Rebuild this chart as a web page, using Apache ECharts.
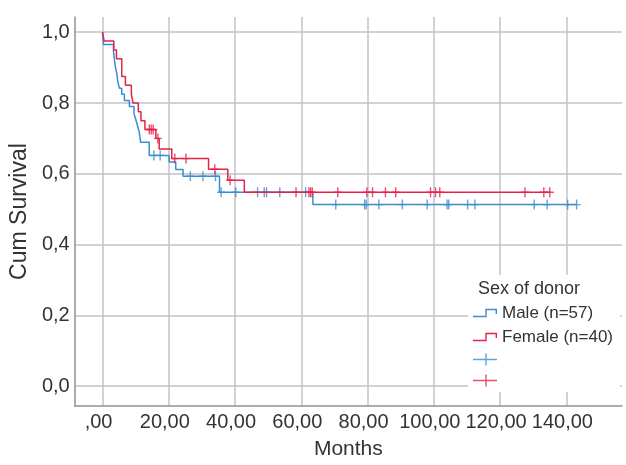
<!DOCTYPE html>
<html><head><meta charset="utf-8">
<script src="https://cdn.jsdelivr.net/npm/echarts@6/dist/echarts.min.js"></script>
<style>html,body{margin:0;padding:0;background:#fff}#c{width:626px;height:465px}</style>
</head><body><div id="c"></div>
<script>
// ---- data ----
const xTicks = [0, 20, 40, 60, 80, 100, 120, 140];
const yTicks = [0, 0.2, 0.4, 0.6, 0.8, 1.0];

const maleTimes = [0, 0.3, 3.3, 3.8, 4.3, 4.6, 5.1, 5.8, 6.6, 8.1, 9.5, 10.0, 10.5, 11.1, 11.5, 14.1, 20.1, 22.1, 24.3, 35.3, 63.5];
const maleSurv  = [1, 0.965, 0.947, 0.906, 0.883, 0.860, 0.842, 0.825, 0.807, 0.790, 0.770, 0.754, 0.738, 0.717, 0.689, 0.652, 0.633, 0.612, 0.593, 0.548, 0.513];
const maleCensor = [15.5, 17.4, 26.5, 30.3, 34.1, 35.8, 40.2, 46.8, 48.8, 49.5, 53.5, 61.3, 70.4, 79.1, 79.6, 83.4, 90.5, 98.0, 104.0, 104.5, 110.2, 112.4, 130.3, 134.2, 140.4, 143.1];

const femaleTimes = [0, 0.5, 3.4, 4.2, 5.8, 6.9, 8.7, 9.2, 10.8, 11.6, 12.8, 16.1, 17.1, 20.9, 32.0, 37.8, 42.8];
const femaleSurv  = [1, 0.975, 0.950, 0.925, 0.875, 0.850, 0.825, 0.800, 0.775, 0.750, 0.725, 0.700, 0.670, 0.643, 0.613, 0.582, 0.548];
const femaleCensor = [14.1, 14.7, 15.3, 16.7, 21.8, 25.2, 33.9, 38.5, 58.4, 62.3, 62.8, 63.3, 71.0, 79.8, 81.5, 85.4, 88.5, 99.0, 100.5, 101.8, 127.5, 133.2, 135.0];

const seriesNames = ['Male (n=57)', 'Female (n=40)', ' ', '  '];
const legendTitle = 'Sex of donor';

// ---- helpers ----
function survAt(times, surv, t) {
  let s = surv[0];
  for (let i = 0; i < times.length; i++) { if (times[i] <= t) s = surv[i]; }
  return s;
}
function stepData(times, surv, censor) {
  const d = times.map((t, i) => [t, surv[i]]);
  const end = censor[censor.length - 1];
  d.push([end, surv[surv.length - 1]]);
  return d;
}
function censorData(times, surv, censor) {
  return censor.map(t => [t, survAt(times, surv, t)]);
}

const BLUE = '#3a8dd0', RED = '#e2234a';
const FONT = "'Liberation Sans', Arial, sans-serif";
const crossSym = 'path://M0,4.3H8V5.7H0Z M3.3,0H4.7V10H3.3Z';
const stepIcon = 'path://M0,0h0.01v0.01h-0.01Z M23.99,13.99h0.01v0.01h-0.01Z M0,9.8H12.3V2.8H24V8H22.6V4.2H13.7V11.2H0Z';
const plusIcon = 'path://M0,0h0.01v0.01h-0.01Z M23.99,13.99h0.01v0.01h-0.01Z M0,6.3H24V7.7H0Z M12.3,1H13.7V13H12.3Z';

const fmtX = v => v === 0 ? ',00' : v.toFixed(2).replace('.', ',');
const fmtY = v => v.toFixed(1).replace('.', ',');

const chart = echarts.init(document.getElementById('c'), null, {renderer: 'canvas'});
chart.setOption({
  animation: false,
  backgroundColor: '#fff',
  textStyle: {fontFamily: FONT},
  grid: {left: 71, right: 4, top: 17, bottom: 52, containLabel: false},
  title: {
    text: legendTitle, left: 478, top: 280, padding: 0,
    textStyle: {fontFamily: FONT, fontSize: 18, fontWeight: 'normal', color: '#333'}
  },
  legend: {
    orient: 'vertical', left: 468, top: 275,
    padding: [29.5, 7, 4.5, 5],
    backgroundColor: '#fff',
    itemWidth: 24, itemHeight: 14, itemGap: 7,
    selectedMode: false,
    formatter: n => n.trim(),
    textStyle: {fontFamily: FONT, fontSize: 17, lineHeight: 17, color: '#333'},
    data: [
      {name: seriesNames[0], icon: stepIcon, itemStyle: {color: BLUE, borderWidth: 0}},
      {name: seriesNames[1], icon: stepIcon, itemStyle: {color: RED, borderWidth: 0}},
      {name: seriesNames[2], icon: plusIcon, itemStyle: {color: BLUE, borderWidth: 0}},
      {name: seriesNames[3], icon: plusIcon, itemStyle: {color: RED, borderWidth: 0}}
    ]
  },
  xAxis: {
    type: 'value', min: -8.4, max: 156.8,
    name: 'Months', nameLocation: 'middle', nameGap: 33,
    nameTextStyle: {fontFamily: FONT, fontSize: 21, color: '#333'},
    axisLine: {show: true, onZero: false, lineStyle: {color: '#8c9494', width: 1.5}},
    axisTick: {show: false, customValues: xTicks},
    axisLabel: {customValues: xTicks, formatter: fmtX, fontFamily: FONT, fontSize: 20, color: '#333', margin: 6, padding: [0, 8, 0, 0]},
    splitLine: {show: true, lineStyle: {color: '#c0c4c4', width: 1.5}}
  },
  yAxis: {
    type: 'value', min: -0.056, max: 1.043,
    name: 'Cum Survival', nameLocation: 'middle', nameGap: 41,
    nameTextStyle: {fontFamily: FONT, fontSize: 23, color: '#333'},
    axisLine: {show: true, onZero: false, lineStyle: {color: '#8c9494', width: 1.5}},
    axisTick: {show: false, customValues: yTicks},
    axisLabel: {customValues: yTicks, formatter: fmtY, fontFamily: FONT, fontSize: 20, color: '#333', margin: 5},
    splitLine: {show: true, lineStyle: {color: '#c0c4c4', width: 1.5}}
  },
  series: [
    {name: seriesNames[0], type: 'line', step: 'end', showSymbol: false, z: 3,
     color: BLUE, lineStyle: {color: BLUE, width: 1.5},
     data: stepData(maleTimes, maleSurv, maleCensor)},
    {name: seriesNames[1], type: 'line', step: 'end', showSymbol: false, z: 4,
     color: RED, lineStyle: {color: RED, width: 1.5},
     data: stepData(femaleTimes, femaleSurv, femaleCensor)},
    {name: seriesNames[2], type: 'scatter', symbol: crossSym, symbolSize: [8, 10], z: 3,
     itemStyle: {color: BLUE}, data: censorData(maleTimes, maleSurv, maleCensor)},
    {name: seriesNames[3], type: 'scatter', symbol: crossSym, symbolSize: [8, 10], z: 4,
     itemStyle: {color: RED}, data: censorData(femaleTimes, femaleSurv, femaleCensor)}
  ]
});
</script></body></html>
